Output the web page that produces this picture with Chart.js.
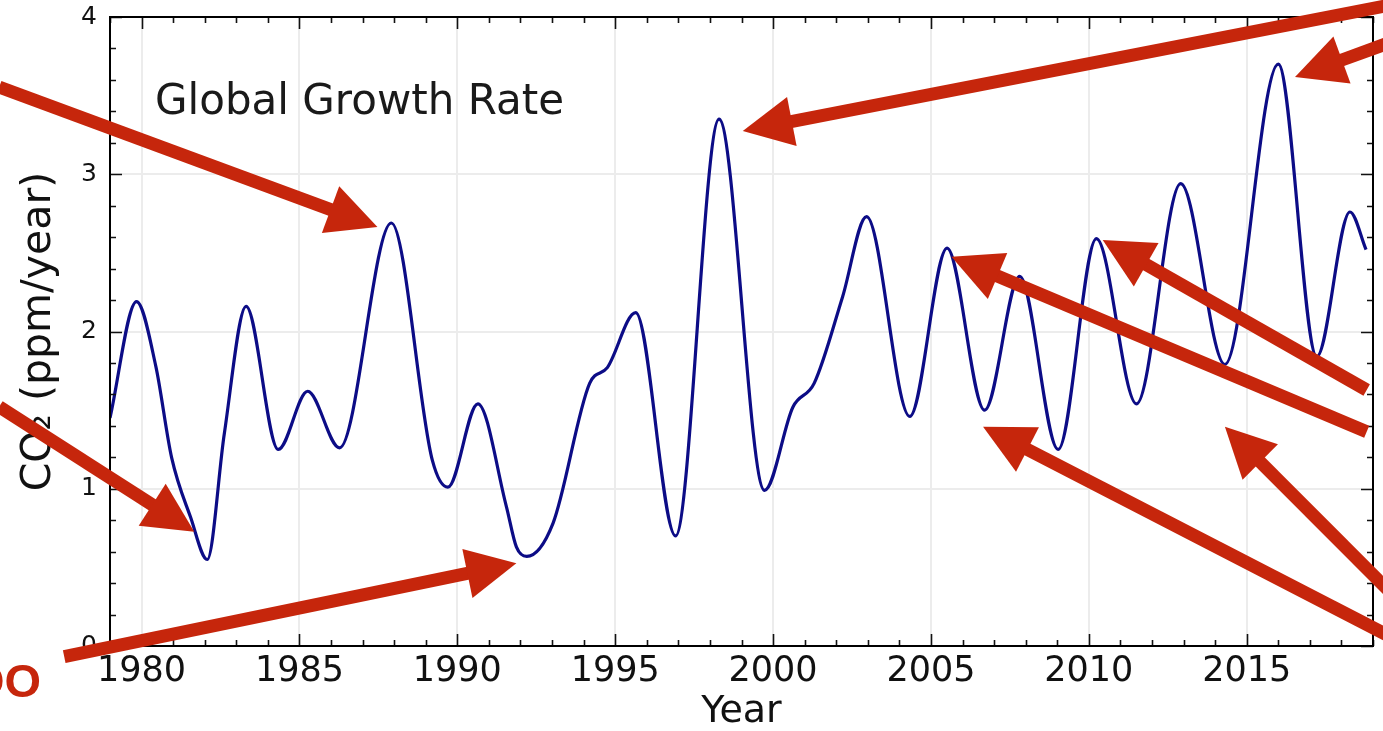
<!DOCTYPE html>
<html><head><meta charset="utf-8">
<script src="https://cdn.jsdelivr.net/npm/chart.js@4.4.1/dist/chart.umd.min.js"></script>
<style>html,body{margin:0;padding:0;background:#fff;overflow:hidden}canvas{display:block}</style>
</head><body>
<canvas id="c" width="1383" height="731"></canvas>
<script>
// ---- data ----
const years = [1979.00,1979.84,1980.45,1980.95,1981.55,1982.08,1982.62,1983.31,1984.33,1985.26,1986.27,1987.91,1989.21,1989.70,1990.65,1991.55,1991.87,1992.20,1993.03,1994.19,1994.75,1995.65,1996.91,1998.29,1999.73,2000.63,2001.30,2002.20,2002.96,2004.33,2005.51,2006.70,2007.81,2009.03,2010.24,2011.51,2012.91,2014.31,2016.00,2017.22,2018.27,2018.78];
const growth = [1.45,2.19,1.78,1.20,0.82,0.55,1.35,2.16,1.25,1.62,1.26,2.69,1.18,1.01,1.54,0.89,0.63,0.57,0.78,1.67,1.77,2.12,0.70,3.35,0.99,1.52,1.67,2.22,2.73,1.46,2.53,1.50,2.35,1.25,2.59,1.54,2.94,1.79,3.70,1.84,2.76,2.52];
const xTickValues = [1980,1985,1990,1995,2000,2005,2010,2015];
const yTickValues = [0,1,2,3,4];
const xRange = [1979, 2019];
const yRange = [0, 4];
const plotLabel = 'Global Growth Rate';
const xAxisTitle = 'Year';
const yAxisTitle = 'CO\u2082 (ppm/year)';
// annotation arrows (data coordinates): tail -> tip
const arrowTailX = [1975.49,1975.49,1977.55,2020.49,2020.49,2018.80,2018.80,2020.49,2020.49];
const arrowTailY = [3.555,1.522,-0.068,4.113,3.908,1.628,1.363,0.153,-0.038];
const arrowTipX  = [1987.47,1981.67,1991.87,1999.04,2016.53,2010.44,2005.65,2014.31,2006.65];
const arrowTipY  = [2.665,0.727,0.526,3.275,3.618,2.582,2.476,1.395,1.395];
const cornerText = 'OO';

const FONT = '"DejaVu Sans", Verdana, sans-serif';
const RED = '#c6260c';

const decorPlugin = {
  id: 'decor',
  afterDatasetsDraw(chart) {
    const {ctx, chartArea: a, scales: {x, y}} = chart;
    ctx.save();
    ctx.strokeStyle = '#111';
    ctx.lineWidth = 1.6;
    ctx.beginPath();
    for (let yr = xRange[0]; yr <= xRange[1]; yr++) {
      const px = Math.round(x.getPixelForValue(yr)) + 0.5;
      const len = (yr % 5 === 0) ? 12 : 6;
      ctx.moveTo(px, a.bottom); ctx.lineTo(px, a.bottom - len);
      ctx.moveTo(px, a.top); ctx.lineTo(px, a.top + len);
    }
    for (let i = 0; i <= 20; i++) {
      const py = Math.round(y.getPixelForValue(i / 5)) + 0.5;
      const len = (i % 5 === 0) ? 12 : 6;
      ctx.moveTo(a.left, py); ctx.lineTo(a.left + len, py);
      ctx.moveTo(a.right, py); ctx.lineTo(a.right - len, py);
    }
    ctx.stroke();
    ctx.lineWidth = 2;
    ctx.strokeStyle = '#000';
    ctx.strokeRect(a.left, a.top, a.right - a.left, a.bottom - a.top);
    // in-plot label
    ctx.fillStyle = '#1a1a1a';
    ctx.font = '42px ' + FONT;
    ctx.textBaseline = 'alphabetic';
    ctx.textAlign = 'left';
    ctx.fillText(plotLabel, a.left + 45, a.top + 97);
    ctx.restore();
  },
  afterDraw(chart) {
    const {ctx, scales: {x, y}} = chart;
    ctx.save();
    ctx.fillStyle = RED;
    ctx.strokeStyle = RED;
    for (let i = 0; i < arrowTipX.length; i++) {
      const x1 = x.getPixelForValue(arrowTailX[i]), y1 = y.getPixelForValue(arrowTailY[i]);
      const x2 = x.getPixelForValue(arrowTipX[i]), y2 = y.getPixelForValue(arrowTipY[i]);
      const dx = x2 - x1, dy = y2 - y1, L = Math.hypot(dx, dy);
      const ux = dx / L, uy = dy / L, nx = -uy, ny = ux;
      const headLen = 50, hw = 25;
      const bx = x2 - ux * headLen, by = y2 - uy * headLen;
      ctx.lineWidth = 13;
      ctx.lineCap = 'butt';
      ctx.beginPath();
      ctx.moveTo(x1, y1);
      ctx.lineTo(bx + ux * 6, by + uy * 6);
      ctx.stroke();
      ctx.beginPath();
      ctx.moveTo(x2, y2);
      ctx.lineTo(bx + nx * hw, by + ny * hw);
      ctx.lineTo(bx - nx * hw, by - ny * hw);
      ctx.closePath();
      ctx.fill();
    }
    ctx.font = 'bold 47px "Liberation Sans", Arial, sans-serif';
    ctx.textAlign = 'right';
    ctx.textBaseline = 'alphabetic';
    ctx.fillText(cornerText, 41, 697);
    ctx.restore();
  }
};

new Chart(document.getElementById('c'), {
  type: 'line',
  data: {
    datasets: [{
      data: years.map((v, i) => ({x: v, y: growth[i]})),
      borderColor: '#0c0c86',
      borderWidth: 3.2,
      pointRadius: 0,
      fill: false,
      cubicInterpolationMode: 'monotone'
    }]
  },
  options: {
    responsive: false,
    devicePixelRatio: 1,
    animation: false,
    layout: {padding: {top: 17, right: 10, left: 0, bottom: 0}},
    plugins: {legend: {display: false}, tooltip: {enabled: false}},
    scales: {
      x: {
        type: 'linear',
        min: xRange[0], max: xRange[1],
        afterBuildTicks: s => { s.ticks = xTickValues.map(v => ({value: v})); },
        afterFit: s => { s.height = 85; s.paddingLeft = 0; s.paddingRight = 0; },
        ticks: {callback: v => String(v), color: '#111', font: {family: FONT, size: 35}, padding: 5, maxRotation: 0, autoSkip: false},
        grid: {color: '#ececec', lineWidth: 2, drawTicks: false},
        border: {display: false},
        title: {display: true, text: xAxisTitle, color: '#111', font: {family: FONT, size: 38, lineHeight: 1}, padding: {top: 0, bottom: 0}}
      },
      y: {
        min: yRange[0], max: yRange[1],
        afterBuildTicks: s => { s.ticks = yTickValues.map(v => ({value: v})); },
        afterFit: s => { s.width = 110; s.paddingTop = 0; s.paddingBottom = 0; },
        ticks: {callback: v => String(v), color: '#111', font: {family: FONT, size: 25}, padding: 13},
        grid: {color: '#ececec', lineWidth: 2, drawTicks: false},
        border: {display: false},
        title: {display: true, text: yAxisTitle, color: '#111', font: {family: FONT, size: 41}, padding: {top: 15, bottom: 0}}
      }
    }
  },
  plugins: [decorPlugin]
});
</script>
</body></html>
